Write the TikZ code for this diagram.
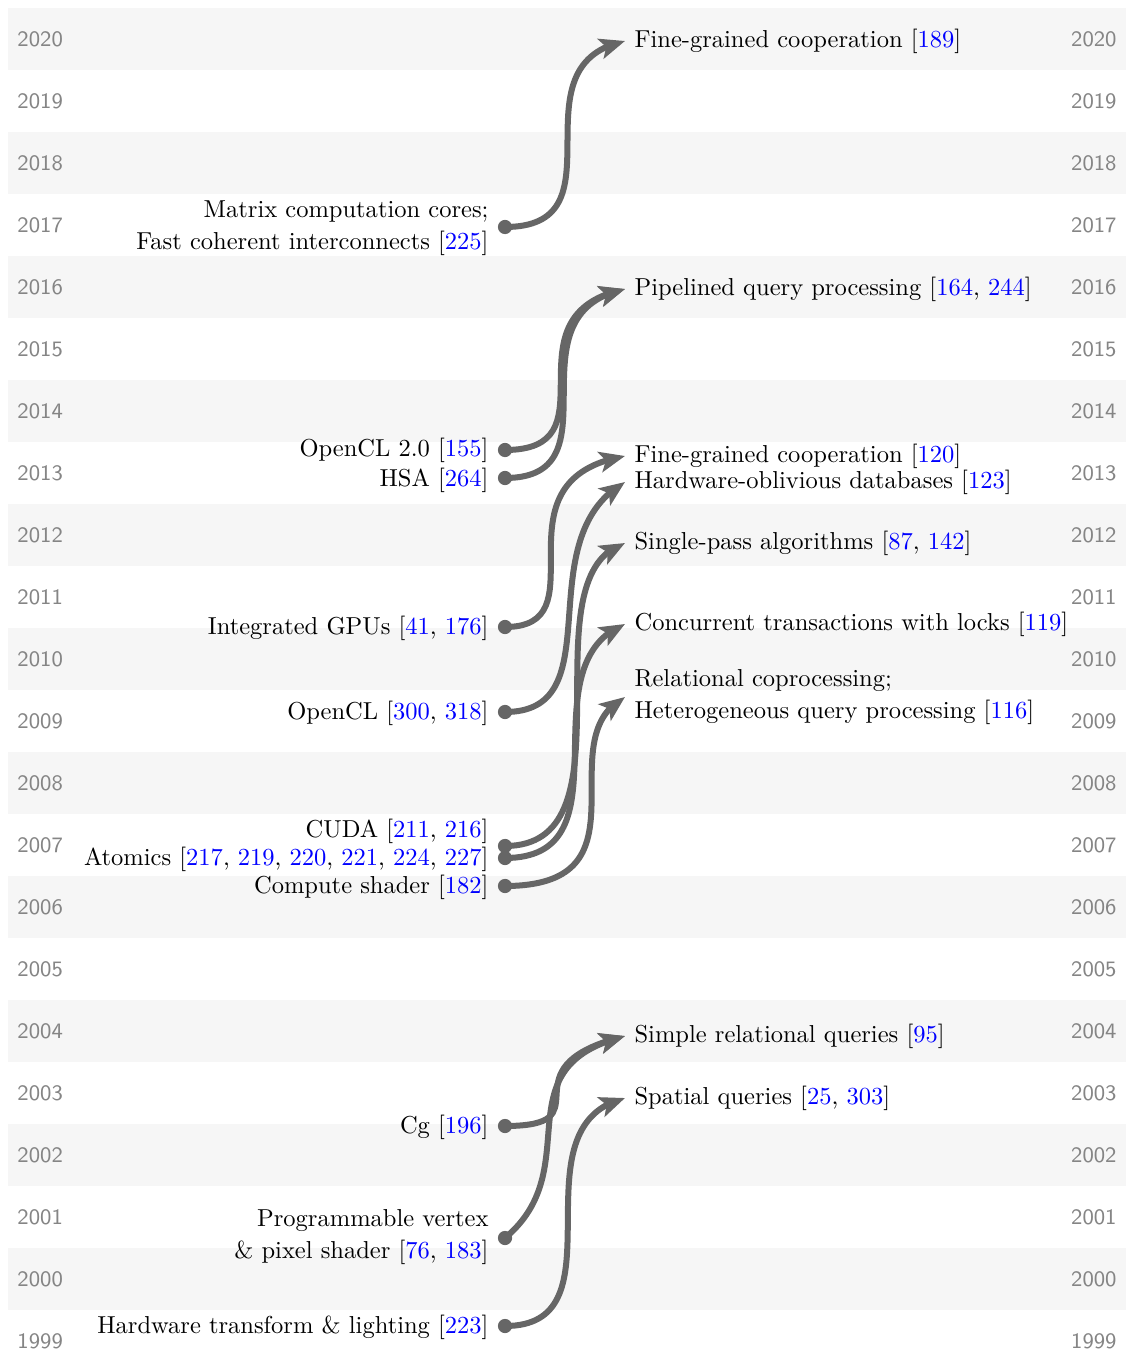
\documentclass[tikz,border=0pt]{standalone}
\usetikzlibrary{arrows.meta,bending}
\definecolor{band}{HTML}{F6F6F6}
\definecolor{linkgray}{HTML}{666666}
\definecolor{yeargray}{HTML}{858585}
\newcommand\rf[1]{\textcolor{blue}{#1}}
% connector: source dot, target node, out angle, out distance, in angle, in distance
\newcommand\link[6]{%
  \draw[link] (#1.center) .. controls +({#4*cos(#3)},{-#4*sin(#3)})
    and +({-#6*cos(#5)},{#6*sin(#5)}) .. (#2.west);}
\begin{document}
\begin{tikzpicture}[x=0.408pt,y=-0.408pt,
  year/.style={font=\sffamily\small, text=yeargray, inner sep=0pt},
  src/.style={anchor=east, align=right, inner sep=0pt, font=\fontsize{10}{13}\selectfont},
  tgt/.style={anchor=west, align=left, inner ysep=0pt, inner xsep=3.7pt, font=\fontsize{10}{13}\selectfont},
  dotn/.style={circle, fill=linkgray, minimum size=5.8pt, inner sep=0pt},
  link/.style={line width=2.45pt, draw=linkgray,
    -{Stealth[length=10.4pt, width=8.4pt, inset=2.4pt, flex]}},
]
\useasboundingbox (0,0) rectangle (1126,1354);

% shaded bands for even years
\foreach \Y in {2000,2002,...,2020}{
  \pgfmathsetmacro\yc{39+(2020-\Y)*62}
  \fill[band] (8,\yc-31) rectangle (1126,\yc+31);
}
% year labels on both sides
\foreach \Y in {1999,...,2020}{
  \pgfmathsetmacro\yc{39+(2020-\Y)*62}
  \node[year, anchor=west] (yl\Y) at (17,\yc) {\Y};
  \node[year, anchor=east] (yr\Y) at (1117,\yc) {\Y};
}

% hardware features
\node[src] (matrix) at (489,228) {Matrix computation cores;\\Fast coherent interconnects [\rf{225}]};
\node[src] (ocl2) at (489,450) {OpenCL 2.0 [\rf{155}]};
\node[src] (hsa) at (489,480) {HSA [\rf{264}]};
\node[src] (igpu) at (489,628) {Integrated GPUs [\rf{41}, \rf{176}]};
\node[src] (ocl) at (489,713) {OpenCL [\rf{300}, \rf{318}]};
\node[src] (cuda) at (489,831) {CUDA [\rf{211}, \rf{216}]};
\node[src] (atom) at (489,859) {Atomics [\rf{217}, \rf{219}, \rf{220}, \rf{221}, \rf{224}, \rf{227}]};
\node[src] (cs) at (489,887) {Compute shader [\rf{182}]};
\node[src] (cg) at (489,1127) {Cg [\rf{196}]};
\node[src] (prog) at (489,1237) {Programmable vertex\\\& pixel shader [\rf{76}, \rf{183}]};
\node[src] (htl) at (489,1327) {Hardware transform \& lighting [\rf{223}]};

% dots
\node[dotn] (matrix-d) at (505,227) {};
\node[dotn] (ocl2-d) at (505,450) {};
\node[dotn] (hsa-d) at (505,478) {};
\node[dotn] (igpu-d) at (505,627) {};
\node[dotn] (ocl-d) at (505,712) {};
\node[dotn] (cuda-d) at (505,846) {};
\node[dotn] (atom-d) at (505,858) {};
\node[dotn] (cs-d) at (505,886) {};
\node[dotn] (cg-d) at (505,1126) {};
\node[dotn] (prog-d) at (505,1238) {};
\node[dotn] (htl-d) at (505,1326) {};

% database research
\node[tgt] (fg189) at (625,41) {Fine-grained cooperation [\rf{189}]};
\node[tgt] (pipe) at (625,289) {Pipelined query processing [\rf{164}, \rf{244}]};
\node[tgt] (fg120) at (625,456) {Fine-grained cooperation [\rf{120}]};
\node[tgt] (hwobl) at (625,482) {Hardware-oblivious databases [\rf{123}]};
\node[tgt] (single) at (625,543) {Single-pass algorithms [\rf{87}, \rf{142}]};
\node[tgt] (conc) at (625,624) {Concurrent transactions with locks [\rf{119}]};
\node[tgt] (rel) at (625,697) {Relational coprocessing;\\Heterogeneous query processing [\rf{116}]};
\node[tgt] (simple) at (625,1036) {Simple relational queries [\rf{95}]};
\node[tgt] (spatial) at (625,1098) {Spatial queries [\rf{25}, \rf{303}]};

% connectors
\link{matrix-d}{fg189}{0}{122}{12}{118}
\link{ocl2-d}{pipe}{0}{113}{12}{127}
\link{hsa-d}{pipe}{0}{117}{12}{123}
\link{igpu-d}{fg120}{0}{100}{10}{140}
\link{ocl-d}{hwobl}{0}{110}{30}{115}
\link{cuda-d}{single}{0}{134}{18}{107}
\link{atom-d}{conc}{0}{128}{22}{110}
\link{cs-d}{rel}{0}{150}{28}{90}
\link{cg-d}{simple}{0}{104}{14}{130}
\link{prog-d}{simple}{40}{110}{14}{130}
\link{htl-d}{spatial}{0}{122}{14}{118}
\end{tikzpicture}
\end{document}
